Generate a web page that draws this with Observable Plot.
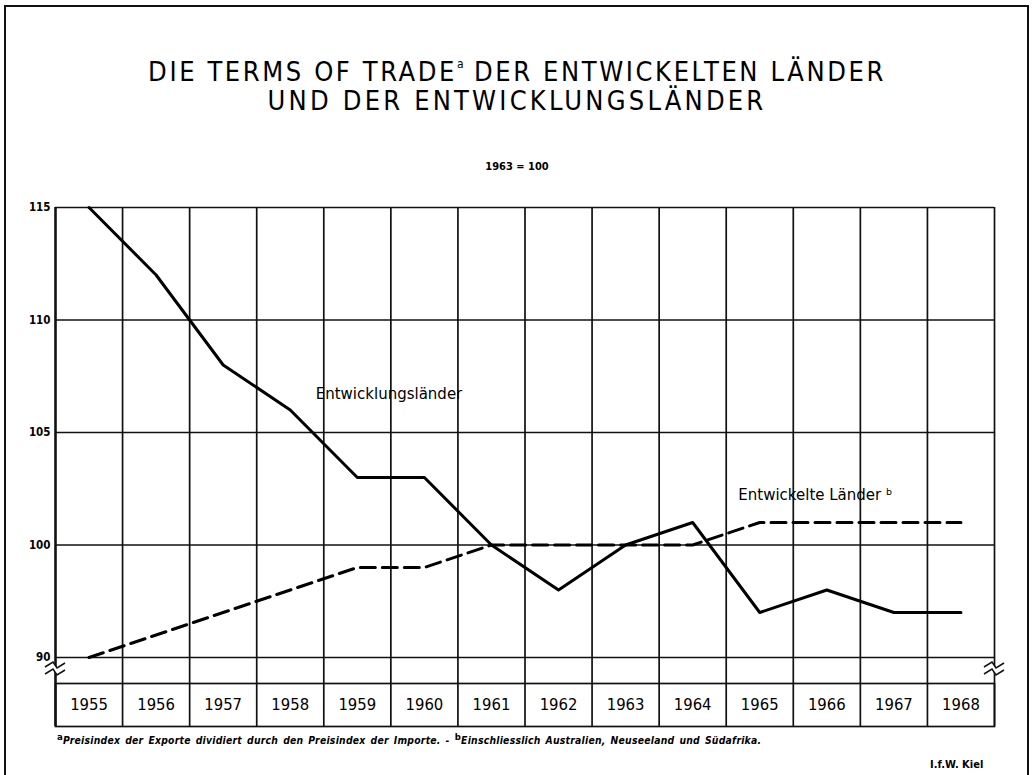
<!DOCTYPE html>
<html>
<head>
<meta charset="utf-8">
<script src="https://cdn.jsdelivr.net/npm/d3@7"></script>
<script src="https://cdn.jsdelivr.net/npm/@observablehq/plot@0.6"></script>
<style>
  html, body { margin: 0; padding: 0; background: #fff; }
  #page { position: relative; width: 1034px; height: 775px; overflow: hidden; background: #fff; font-family: "DejaVu Sans Condensed", "DejaVu Sans", sans-serif; color: #000; }
  #border { position: absolute; left: 4px; top: 5px; width: 1025px; height: 800px; border: 2px solid #111; box-sizing: border-box; }
  .title { position: absolute; left: 0; width: 1034px; text-align: center; font-size: 27px; font-weight: 300; letter-spacing: 2.6px; line-height: 29px; }
  .title .l2 { letter-spacing: 3.2px; }
  .title sup { font-size: 12px; vertical-align: 13px; line-height: 0; letter-spacing: 0; }
  #subtitle { position: absolute; left: 0; width: 1034px; top: 160px; text-align: center; font-size: 11px; font-weight: bold; }
  #foot { position: absolute; left: 57px; top: 734px; font-size: 10.3px; letter-spacing: 0.25px; word-spacing: 1.5px; font-style: italic; font-weight: bold; white-space: nowrap; }
  #foot sup { font-size: 9.5px; vertical-align: 4px; line-height: 0; font-style: normal; }
  #src { position: absolute; left: 930px; top: 758px; font-size: 11px; font-weight: bold; }
  .plot { position: absolute; left: 0; }
</style>
</head>
<body>
<div id="page">
  <div id="border"></div>
  <div class="title" style="top:57px">DIE TERMS OF TRADE<sup>a</sup> DER ENTWICKELTEN LÄNDER<br><span class="l2">UND DER ENTWICKLUNGSLÄNDER</span></div>
  <div id="subtitle">1963 = 100</div>
  <div id="foot"><sup>a</sup>Preisindex der Exporte dividiert durch den Preisindex der Importe. - <sup>b</sup>Einschliesslich Australien, Neuseeland und Südafrika.</div>
  <div id="src">I.f.W. Kiel</div>
</div>
<script>
// ---- data ----
const years = [1955, 1956, 1957, 1958, 1959, 1960, 1961, 1962, 1963, 1964, 1965, 1966, 1967, 1968];
const entwicklungslaender = [115, 112, 108, 106, 103, 103, 100, 98, 100, 101, 97, 98, 97, 97];
const entwickelteLaender = [95, 96, 97, 98, 99, 99, 100, 100, 100, 100, 101, 101, 101, 101];
const yTicks = [95, 100, 105, 110, 115];
const yTickLabels = ["90", "100", "105", "110", "115"];
const seriesNames = ["Entwicklungsländer", "Entwickelte Länder ᵇ"];

// ---- derived tables ----
const dev = years.map((y, i) => ({year: y, value: entwicklungslaender[i]}));
const ind = years.map((y, i) => ({year: y, value: entwickelteLaender[i]}));
const boundaries = [years[0] - 0.5, ...years.map(y => y + 0.5)];
const xDomain = [years[0] - 0.5, years[years.length - 1] + 0.5];

const W = 1034, ML = 55, MR = 40;
const font = "DejaVu Sans Condensed, DejaVu Sans, sans-serif";
const labelFont = "DejaVu Sans, sans-serif";

const plotA = Plot.plot({
  width: W, height: 470,
  marginLeft: ML, marginRight: MR, marginTop: 17, marginBottom: 3,
  x: {domain: xDomain, axis: null},
  y: {domain: [yTicks[0], yTicks[yTicks.length - 1]]},
  style: {fontFamily: font, background: "transparent", overflow: "visible"},
  marks: [
    Plot.ruleY(yTicks, {stroke: "#111", strokeWidth: 1.6}),
    Plot.ruleX(boundaries, {stroke: "#111", strokeWidth: (d, i) => (i === 0 ? 2.6 : 1.7)}),
    Plot.axisY(yTicks, {tickSize: 0, tickPadding: 5, fontSize: 11.5, fontWeight: "bold",
      tickFormat: d => yTickLabels[yTicks.indexOf(d)], label: null}),
    Plot.line(ind, {x: "year", y: "value", stroke: "#000", strokeWidth: 3, strokeDasharray: "15,7", strokeLinejoin: "round"}),
    Plot.line(dev, {x: "year", y: "value", stroke: "#000", strokeWidth: 3, strokeLinejoin: "round"}),
    Plot.text([seriesNames[0]], {x: 1958.38, y: 106.7, text: d => d, textAnchor: "start", fontSize: 15, fontFamily: labelFont, fill: "#000", letterSpacing: 0.4}),
    Plot.text([seriesNames[1]], {x: 1964.68, y: 102.2, text: d => d, textAnchor: "start", fontSize: 15, fontFamily: labelFont, fill: "#000", letterSpacing: 0.6})
  ]
});
plotA.classList.add("plot");
plotA.style.top = "190px";
document.getElementById("page").appendChild(plotA);

const plotB = Plot.plot({
  width: W, height: 72,
  marginLeft: ML, marginRight: MR, marginTop: 26, marginBottom: 3,
  x: {domain: xDomain, axis: null},
  style: {fontFamily: font, background: "transparent", overflow: "visible"},
  marks: [
    Plot.frame({stroke: "#111", strokeWidth: 1.7}),
    Plot.ruleX(boundaries, {stroke: "#111", strokeWidth: (d, i) => (i === 0 ? 2.6 : 1.7), insetTop: -26}),
    Plot.text(years, {x: d => d, text: d => String(d), frameAnchor: "middle", fontSize: 16.5, fill: "#000"})
  ]
});
plotB.classList.add("plot");
plotB.style.top = "657px";
document.getElementById("page").appendChild(plotB);

// axis-break symbols (decoration) on the left and right frame edges
const sB = d3.select(plotB);
function brk(x0) {
  const g = sB.append("g");
  g.append("polygon")
    .attr("points", `${x0-9},${9} ${x0-2},${5} ${x0+2},${11} ${x0+9},${7} ${x0+9},${14} ${x0+2},${18} ${x0-2},${12} ${x0-9},${16}`)
    .attr("fill", "#fff");
  const z = (dy) => `M${x0-10},${10+dy} L${x0-2},${5+dy} L${x0+2},${11+dy} L${x0+10},${6+dy}`;
  g.append("path").attr("d", z(0)).attr("fill", "none").attr("stroke", "#111").attr("stroke-width", 1.5);
  g.append("path").attr("d", z(7)).attr("fill", "none").attr("stroke", "#111").attr("stroke-width", 1.5);
}
brk(ML);
brk(W - MR);
</script>
</body>
</html>
